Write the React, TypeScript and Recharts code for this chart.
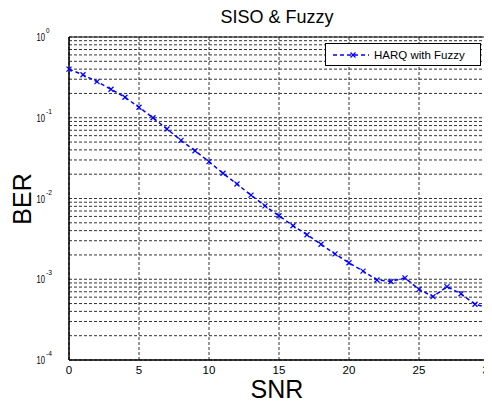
import {
  LineChart,
  Line,
  XAxis,
  YAxis,
  CartesianGrid,
  ReferenceArea,
  Legend,
} from "recharts";

// SNR (dB) and measured BER for the fuzzy HARQ scheme
const snr = [0, 1, 2, 3, 4, 5, 6, 7, 8, 9, 10, 11, 12, 13, 14, 15, 16, 17, 18, 19, 20, 21, 22, 23, 24, 25, 26, 27, 28, 29, 30];
const ber = [
  0.4, 0.34, 0.28, 0.225, 0.179, 0.135, 0.1, 0.0726, 0.0525, 0.039, 0.0286,
  0.0205, 0.0151, 0.011, 0.0081, 0.0061, 0.0046, 0.00356, 0.00271, 0.00206, 0.0016,
  0.00126, 0.00098, 0.00094, 0.00104, 0.00075, 0.00061, 0.00081, 0.00066, 0.00049, 0.00044,
];

const xTicks = [0, 5, 10, 15, 20, 25, 30];
const decades = [1e-4, 1e-3, 1e-2, 1e-1];
const minorSteps = [1, 2, 3, 4, 5, 6, 7, 8, 9];
const yTicks = [...decades.flatMap((d) => minorSteps.map((m) => d * m)), 1];

const data = snr.map((s, i) => ({ snr: s, ber: ber[i] }));

const FONT = "'Liberation Sans', Arial, sans-serif";
const BLUE = "#0000ff";

// only label the decades, as 10^n (matlab squeezes these a bit)
const DecadeTick = (props: any) => {
  const { x, y, payload } = props;
  const exp = Math.log10(payload.value);
  if (Math.abs(exp - Math.round(exp)) > 1e-6) return null;
  const e = Math.round(exp);
  return (
    <g fontFamily={FONT} fill="#000">
      <text x={x - 24.5} y={y + 4} fontSize={11} textLength={8.5} lengthAdjust="spacingAndGlyphs">10</text>
      <text x={x - 15} y={y - 4} fontSize={8} textLength={e === 0 ? 3.5 : 6} lengthAdjust="spacingAndGlyphs">{e}</text>
    </g>
  );
};

const XMark = (props: any) => {
  const { cx, cy, index } = props;
  if (cx == null || cy == null) return <g key={index} />;
  const s = 2.5;
  return (
    <g key={index} stroke={BLUE} strokeWidth={1.3}>
      <line x1={cx - s} y1={cy - s} x2={cx + s} y2={cy + s} />
      <line x1={cx - s} y1={cy + s} x2={cx + s} y2={cy - s} />
    </g>
  );
};

const LegendBox = () => (
  <div
    style={{
      width: 154,
      height: 21,
      border: "1px solid #000",
      background: "#fff",
      display: "flex",
      alignItems: "center",
      fontFamily: FONT,
      fontSize: 11.5,
      color: "#000",
    }}
  >
    <svg width={48} height={21}>
      <line x1={7} y1={11} x2={43} y2={11} stroke={BLUE} strokeWidth={1.5} strokeDasharray="4 3" />
      <XMark cx={27} cy={11} index={0} />
    </svg>
    <span>HARQ with Fuzzy</span>
  </div>
);

export default function App() {
  return (
    <div style={{ position: "relative", width: 492, height: 405, marginLeft: -8, marginTop: -8, background: "#fff" }}>
      <div
        style={{
          position: "absolute",
          left: 0,
          width: 554,
          top: 7,
          textAlign: "center",
          fontFamily: FONT,
          fontSize: 18,
          color: "#000",
        }}
      >
        SISO &amp; Fuzzy
      </div>
      <div
        style={{
          position: "absolute",
          left: 22,
          top: 199,
          transform: "translate(-50%, -50%) rotate(-90deg)",
          fontFamily: FONT,
          fontSize: 25,
          color: "#000",
        }}
      >
        BER
      </div>
      <div
        style={{
          position: "absolute",
          left: 0,
          width: 554,
          top: 375,
          textAlign: "center",
          fontFamily: FONT,
          fontSize: 25,
          color: "#000",
        }}
      >
        SNR
      </div>
      <LineChart width={492} height={405} data={data} margin={{ top: 37, right: 3, bottom: 0, left: 0 }}>
        <CartesianGrid stroke="#333" strokeDasharray="3 2" />
        <XAxis
          dataKey="snr"
          type="number"
          domain={[0, 30]}
          ticks={xTicks}
          height={45}
          tickLine={false}
          tickMargin={0}
          axisLine={{ stroke: "#000" }}
          tick={{ fontSize: 11.5, fill: "#000", fontFamily: FONT }}
          interval={0}
        />
        <YAxis
          scale="log"
          type="number"
          domain={[1e-4, 1]}
          ticks={yTicks}
          width={69}
          tickLine={false}
          axisLine={{ stroke: "#000" }}
          tick={<DecadeTick />}
          interval={0}
          allowDataOverflow
        />
        <ReferenceArea x1={0} x2={30} y1={1e-4} y2={1} fill="none" stroke="#000" strokeWidth={1} />
        <Legend
          layout="horizontal"
          verticalAlign="middle"
          align="center"
          content={<LegendBox />}
          wrapperStyle={{ position: "absolute", left: 325, top: 43, width: "auto" }}
        />
        <Line
          dataKey="ber"
          type="linear"
          stroke={BLUE}
          strokeWidth={1.5}
          strokeDasharray="4 3"
          dot={<XMark />}
          activeDot={false}
          isAnimationActive={false}
        />
      </LineChart>
    </div>
  );
}
